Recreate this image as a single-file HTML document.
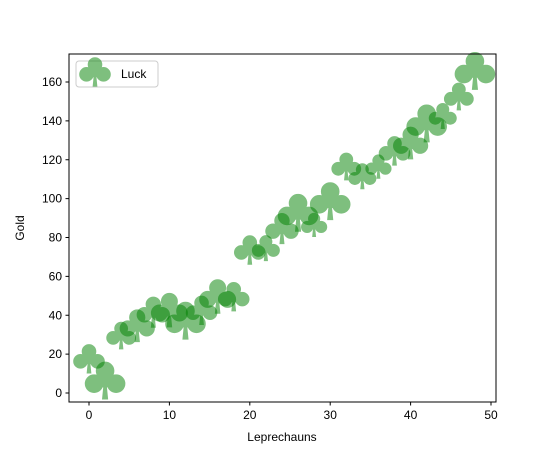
<!DOCTYPE html>
<html><head><meta charset="utf-8"><style>
body{margin:0;background:#fff}
text{font-family:"Liberation Sans","DejaVu Sans",sans-serif;font-size:12px;fill:#000}
</style></head><body>
<svg id="chart" width="550" height="450" xmlns="http://www.w3.org/2000/svg">
<rect width="550" height="450" fill="#fff"/>
<g id="marks"></g>
<rect x="69" y="54" width="427" height="348" fill="none" stroke="#000" stroke-width="1"/>
<g id="axes"></g>
<text x="282" y="441" text-anchor="middle">Leprechauns</text>
<text transform="translate(24,228) rotate(-90)" text-anchor="middle">Gold</text>
<g>
<rect x="76" y="61" width="82" height="26" rx="3" fill="#fff" stroke="#ccc"/>
<g id="legmark"></g>
<text x="121" y="78">Luck</text>
</g>
</svg>
<script>
const xs=[0,2,4,6,8,10,12,14,16,18,20,22,24,26,28,30,32,34,36,38,40,42,44,46,48];
const ys=[17,5.7,29,34,41,42,36.5,42,49,49,73,74,84,92,86,98,116,111,116,124,128,138,142,152,165];
const sizes=[17,22,16,19,18,20,22,17,20,17,17,15,18,22,14,22,16,15,14,17,19,22,15,16,22];
const xTicks=[0,10,20,30,40,50];
const yTicks=[0,20,40,60,80,100,120,140,160];
const X=v=>89+(v-0)*(491-89)/50;
const Y=v=>393-v*(393-82)/160;
const NS="http://www.w3.org/2000/svg";
function club(parent,cx,cy,s){
  const g=document.createElementNS(NS,'g');
  g.setAttribute('opacity','0.5');
  g.setAttribute('fill','#008000');g.setAttribute('stroke','#008000');g.setAttribute('stroke-width','1');
  const r=0.4*s;
  const parts=[[0,-0.5*s],[-0.5*s,0.08*s],[0.5*s,0.08*s]];
  parts.forEach(p=>{
    const c=document.createElementNS(NS,'circle');
    c.setAttribute('cx',cx+p[0]);c.setAttribute('cy',cy+p[1]);c.setAttribute('r',r);
    g.appendChild(c);
  });
  const p=document.createElementNS(NS,'path');
  p.setAttribute('d',`M${cx-0.4*s},${cy-0.25*s} L${cx+0.4*s},${cy-0.25*s} L${cx+0.4*s},${cy+0.25*s} L${cx-0.4*s},${cy+0.25*s}Z M${cx-0.06*s},${cy} L${cx+0.06*s},${cy} L${cx+0.14*s},${cy+0.8*s} L${cx-0.14*s},${cy+0.8*s}Z`);
  p.setAttribute('stroke','none');
  g.appendChild(p);
  parent.appendChild(g);
  return g;
}
const marks=document.getElementById('marks');
xs.forEach((x,i)=>{
  const g=club(marks,X(x),Y(ys[i]),sizes[i]);
  
  
});
const lg=club(document.getElementById('legmark'),95,73,17);


const axes=document.getElementById('axes');
xTicks.forEach(t=>{
  const l=document.createElementNS(NS,'line');
  l.setAttribute('x1',X(t));l.setAttribute('x2',X(t));l.setAttribute('y1',402);l.setAttribute('y2',405.5);l.setAttribute('stroke','#000');
  
  
  axes.appendChild(l);
  const tx=document.createElementNS(NS,'text');
  tx.setAttribute('x',X(t));tx.setAttribute('y',419);tx.setAttribute('text-anchor','middle');tx.textContent=t;
  
  
  axes.appendChild(tx);
});
yTicks.forEach(t=>{
  const l=document.createElementNS(NS,'line');
  l.setAttribute('x1',65.5);l.setAttribute('x2',69);l.setAttribute('y1',Y(t));l.setAttribute('y2',Y(t));l.setAttribute('stroke','#000');
  
  
  axes.appendChild(l);
  const tx=document.createElementNS(NS,'text');
  tx.setAttribute('x',62);tx.setAttribute('y',Y(t)+4);tx.setAttribute('text-anchor','end');tx.textContent=t;
  
  
  axes.appendChild(tx);
});
</script>
</body></html>
